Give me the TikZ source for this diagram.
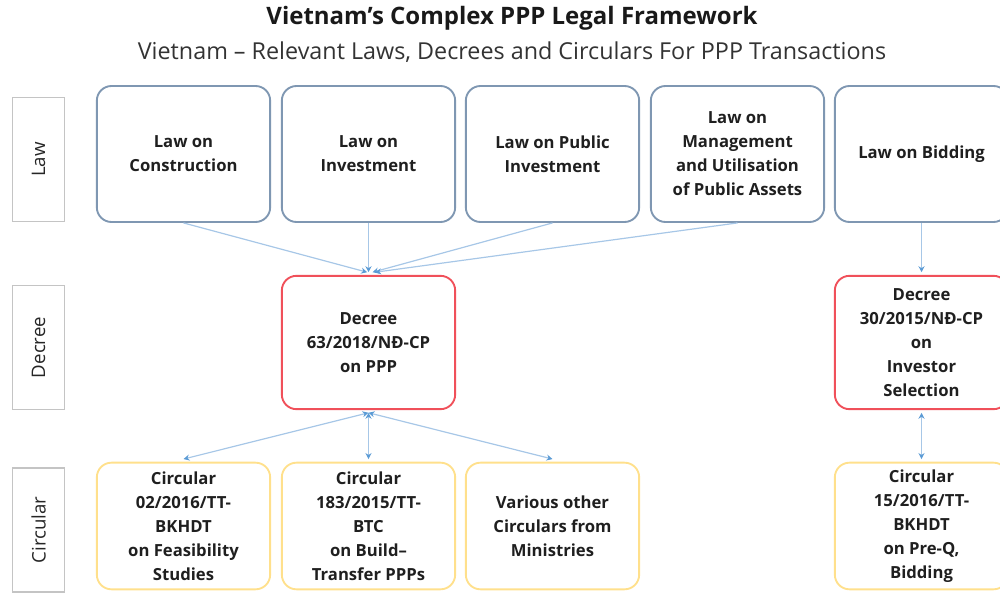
\documentclass[tikz,border=0pt]{standalone}
\usepackage{fontspec}
\setmainfont{Open Sans}
\usetikzlibrary{positioning,arrows.meta}
\definecolor{lawc}{HTML}{7F97B2}
\definecolor{decc}{HTML}{F0505A}
\definecolor{circc}{HTML}{FFE08C}
\definecolor{tagc}{HTML}{C4C4C4}
\definecolor{linkc}{HTML}{A7C7E7}
\definecolor{tipc}{HTML}{5B9BD5}
\tikzset{box/.style={draw,rounded corners=11pt,line width=1.4pt,align=center,font=\fontsize{12.5}{18}\selectfont\bfseries,text=black!88,minimum width=130pt},
 law/.style={box,draw=lawc,minimum height=102pt},
 dec/.style={box,draw=decc,minimum height=100pt},
 circ/.style={box,draw=circc,minimum height=95pt},
 tag/.style={draw=tagc,line width=1.2pt,rotate=90,font=\fontsize{14}{16}\selectfont,text=black!85,
  minimum width=93pt,minimum height=39pt},
 link/.style={draw=linkc,line width=0.9pt,-{Stealth[length=4.5pt,width=4.5pt,color=tipc]}},
 both/.style={link,{Stealth[length=4.5pt,width=4.5pt,color=tipc]}-{Stealth[length=4.5pt,width=4.5pt,color=tipc]}}}

\begin{document}
\begin{tikzpicture}[x=0.75pt,y=-0.75pt]
\useasboundingbox (0,0) rectangle (1000,598);
\node[font=\fontsize{18}{21}\selectfont\bfseries,text=black!90](ttl) at(512,18){Vietnam's Complex PPP Legal Framework};
\node[font=\fontsize{17.5}{21}\selectfont,text=black!80](sub) at(512,52){Vietnam -- Relevant Laws, Decrees and Circulars For PPP Transactions};
% row headings
\node[tag](tl) at(38.5,159.5){Law};
\node[tag](td) at(38.5,347.5){Decree};
\node[tag](tc) at(38.5,530){Circular};
% laws
\node[law](l1) at(183.5,154){Law on\\Construction};
\node[law](l2) at(368.5,154){Law on\\Investment};
\node[law](l3) at(552.5,154){Law on Public\\Investment};
\node[law](l4) at(737.5,154){Law on\\Management\\and Utilisation\\of Public Assets};
\node[law](l5) at(921.5,154){Law on Bidding};
% decrees
\node[dec](d1) at(368.5,342.5){Decree\\63/2018/NĐ-CP\\on PPP};
\node[dec](d2) at(921.5,342.5){Decree\\30/2015/NĐ-CP\\on\\Investor\\Selection};
% circulars
\node[circ](c1) at(183.5,526){Circular\\02/2016/TT-\\BKHDT\\on Feasibility\\Studies};
\node[circ](c2) at(368.5,526){Circular\\183/2015/TT-\\BTC\\on Build--\\Transfer PPPs};
\node[circ](c3) at(552.5,526){Various other\\Circulars from\\Ministries};
\node[circ](c4) at(921.5,526){Circular\\15/2016/TT-\\BKHDT\\on Pre-Q,\\Bidding};
% links
\draw[link](l1.south)--([xshift=-1pt,yshift=2pt]d1.north);
\draw[link](l2.south)--([yshift=2pt]d1.north);
\draw[link](l3.south)--([xshift=3pt,yshift=2pt]d1.north);
\draw[link](l4.south)--([xshift=5pt,yshift=2pt]d1.north);
\draw[link](l5.south)--([yshift=2pt]d2.north);
\draw[both]([yshift=-2pt]d1.south)--([yshift=2pt]c1.north);
\draw[both]([yshift=-2pt]d1.south)--([yshift=2pt]c2.north);
\draw[both]([yshift=-2pt]d1.south)--([yshift=2pt]c3.north);
\draw[both]([yshift=-2pt]d2.south)--([yshift=2pt]c4.north);
\end{tikzpicture}
\end{document}
